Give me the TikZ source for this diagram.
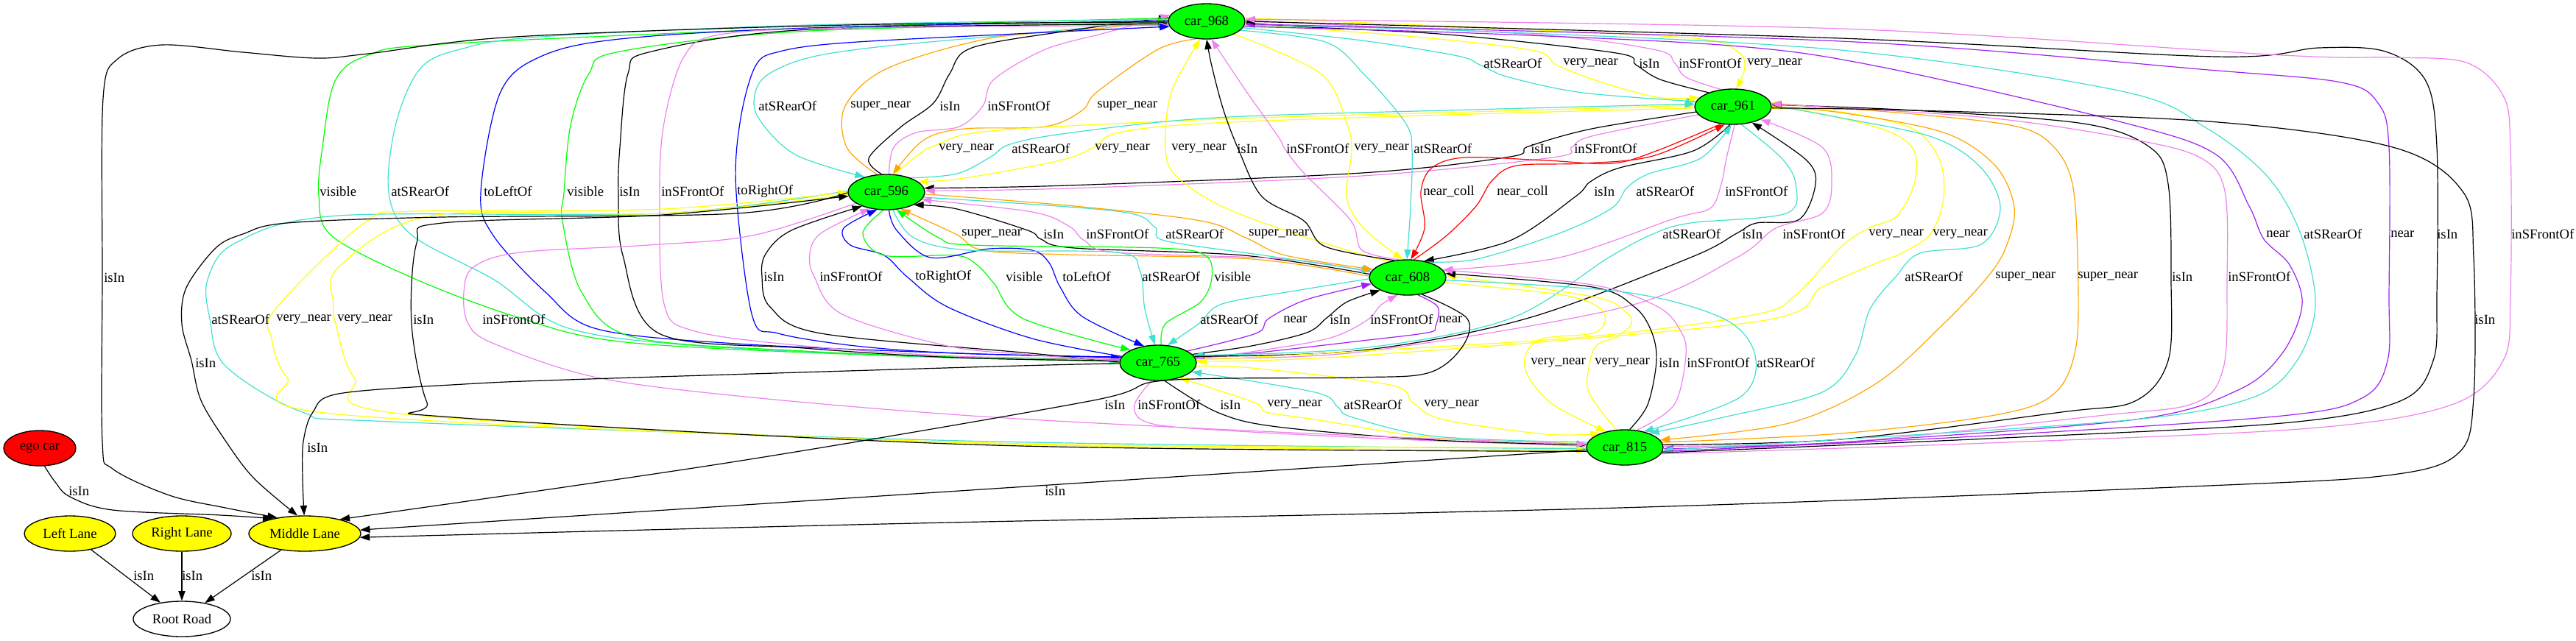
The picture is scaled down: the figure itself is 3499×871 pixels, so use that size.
\documentclass[tikz,border=0pt]{standalone}
\usepackage{fontspec}
\setmainfont{Liberation Serif}
\usetikzlibrary{shapes.geometric,arrows.meta}
\definecolor{gvgreen}{HTML}{00FF00}
\definecolor{gvred}{HTML}{FF0000}
\definecolor{gvyellow}{HTML}{FFFF00}
\definecolor{gvviolet}{HTML}{EE82EE}
\definecolor{gvturq}{HTML}{40E0D0}
\definecolor{gvorange}{HTML}{FFA500}
\definecolor{gvpurple}{HTML}{A020F0}
\definecolor{gvblue}{HTML}{0000FF}
\pgfdeclarelayer{edgelayer}
\pgfsetlayers{edgelayer,main}
\newcommand\edg[2]{\draw[#1] plot[smooth,tension=0.55] coordinates {#2};}
\newcommand\lbl[4]{\node[lab] (#1) at (#2,#3) {#4};}
\begin{document}
\begin{tikzpicture}[x=0.75pt,y=-0.75pt,
  every node/.style={font=\fontsize{14}{16}\selectfont},
  nd/.style={ellipse,draw=black,line width=1pt,minimum height=36pt,inner sep=0pt},
  car/.style={nd,fill=gvgreen,minimum width=78pt},
  lane/.style={nd,fill=gvyellow},
  lab/.style={anchor=west,inner sep=0pt},
  ed/.style={line width=0.9pt,-{Triangle[length=10pt,width=7pt]}},
  rIn/.style={ed,draw=black},
  rFront/.style={ed,draw=gvviolet},
  rRear/.style={ed,draw=gvturq},
  rVery/.style={ed,draw=gvyellow},
  rSuper/.style={ed,draw=gvorange},
  rNear/.style={ed,draw=gvpurple},
  rColl/.style={ed,draw=gvred},
  rVis/.style={ed,draw=gvgreen},
  rSide/.style={ed,draw=gvblue}]
\useasboundingbox (0,0) rectangle (3499,871);
% nodes
\node[car] (c968) at (1639,29) {car\_968};
\node[car] (c961) at (2354,145) {car\_961};
\node[car] (c596) at (1204,261) {car\_596};
\node[car] (c608) at (1912,377) {car\_608};
\node[car] (c765) at (1573,493) {car\_765};
\node[car] (c815) at (2207,608) {car\_815};
\node[nd,fill=gvred,minimum width=73.5pt] (ego) at (54,609) {ego car};
\node[lane,minimum width=93pt] (left) at (95,725) {Left Lane};
\node[lane,minimum width=100.5pt] (right) at (247,725) {Right Lane};
\node[lane,minimum width=114pt] (mid) at (414,725) {Middle Lane};
\node[nd,minimum width=99pt] (root) at (247,841) {Root Road};
\begin{pgfonlayer}{edgelayer}
% 968 - 961
\edg{rRear}{(c968.-10) (1850,55) (1980,76) (2010,88) (2050,105) (2150,126) (c961.172)}
\edg{rVery}{(c968.-5) (1900,48) (2080,68) (2114,88) (2170,110) (2250,132) (c961.165)}
\edg{rIn}{(c961.150) (2255,108) (2222,88) (2195,72) (1967,47) (1760,36) (c968.-2)}
\edg{rFront}{(c961.125) (2290,105) (2275,86) (2250,68) (2100,48) (1800,33) (c968.2)}
\edg{rVery}{(c968.5) (2000,37) (2300,52) (2360,70) (2370,92) (c961.80)}
% 596 - 968
\edg{rRear}{(c968.178) (1400,45) (1200,63) (1100,78) (1045,100) (1026,125) (1030,160) (1080,210) (c596.145)}
\edg{rSuper}{(c596.118) (1150,200) (1148,144) (1205,93) (1345,52) (1500,38) (c968.176)}
\edg{rIn}{(c596.105) (1180,215) (1223,173) (1268,140) (1290,100) (1320,65) (1450,42) (c968.174)}
\edg{rFront}{(c596.82) (1214,200) (1245,180) (1303,172) (1335,144) (1350,108) (1420,67) (1500,45) (c968.170)}
\edg{rSuper}{(c968.-120) (1573,67) (1490,125) (1470,150) (1420,172) (1310,175) (1255,190) (c596.70)}
% 596 - 961
\edg{rVery}{(c596.65) (1245,212) (1272,197) (1346,178) (1650,162) (2000,152) (c961.178)}
\edg{rRear}{(c596.30) (1300,236) (1346,213) (1372,196) (1450,181) (1650,160) (2000,149) (c961.176)}
\edg{rVery}{(c961.182) (2000,155) (1650,167) (1520,180) (1486,200) (1440,218) (1310,242) (c596.18)}
\edg{rIn}{(c961.188) (2162,175) (2076,199) (2051,213) (1850,235) (1450,252) (c596.6)}
\edg{rFront}{(c961.193) (2162,185) (2135,200) (2109,214) (1850,239) (1450,256) (c596.2)}
% 968 - 608
\edg{rVery}{(c608.140) (1830,340) (1708,300) (1640,270) (1590,230) (1583,180) (1593,120) (c968.-110)}
\edg{rIn}{(c608.128) (1800,335) (1771,300) (1714,267) (1683,205) (1662,150) (1646,90) (c968.-90)}
\edg{rFront}{(c608.115) (1850,340) (1835,300) (1771,235) (1745,202) (1737,187) (1690,120) (c968.-75)}
\edg{rVery}{(c968.-25) (1794,100) (1829,167) (1836,205) (1829,267) (1852,310) (c608.105)}
\edg{rRear}{(c968.-15) (1800,57) (1852,100) (1909,167) (1918,205) (1916,280) (c608.92)}
% 961 - 608
\edg{rColl}{(c961.-125) (2250,205) (2190,222) (2100,218) (1990,214) (1945,228) (1930,260) (1935,310) (c608.80)}
\edg{rColl}{(c608.70) (1965,320) (2005,280) (2027,245) (2060,225) (2150,222) (2245,212) (c961.-115)}
\edg{rIn}{(c961.-100) (2300,205) (2200,228) (2160,247) (2140,267) (2051,327) (c608.45)}
\edg{rRear}{(c608.38) (2006,352) (2118,317) (2189,283) (2210,255) (2240,236) (2310,215) (c961.-95)}
\edg{rFront}{(c961.-85) (2345,215) (2338,250) (2323,283) (2274,297) (2118,350) (c608.12)}
% 596 - 608
\edg{rSuper}{(c608.178) (1700,352) (1450,346) (1335,340) (1298,318) (c596.-50)}
\edg{rIn}{(c608.175) (1689,347) (1459,337) (1414,325) (1396,313) (1300,284) (c596.-25)}
\edg{rFront}{(c608.172) (1746,352) (1517,343) (1473,327) (1453,308) (1402,288) (c596.-12)}
\edg{rRear}{(c596.-8) (1517,287) (1568,308) (1582,327) (1717,347) (c608.170)}
\edg{rSuper}{(c596.-3) (1459,280) (1631,300) (1692,323) (1746,347) (c608.167)}
% 968 - 765 (far left)
\edg{rVis}{(c968.175) (1100,38) (600,60) (500,75) (455,110) (438,200) (433,265) (450,320) (559,377) (700,430) (850,465) (1200,483) (c765.178)}
\edg{rRear}{(c968.177) (1100,34) (734,50) (625,67) (571,93) (538,167) (528,262) (560,320) (671,380) (769,445) (950,470) (1300,486) (c765.176)}
\edg{rSide}{(c968.179) (1100,38) (842,53) (734,77) (679,127) (653,262) (670,320) (741,397) (811,447) (1000,467) (1300,480) (c765.172)}
\edg{rVis}{(c765.175) (1300,485) (1092,477) (860,458) (790,397) (764,300) (766,262) (775,170) (800,100) (842,70) (1100,42) (c968.182)}
\edg{rIn}{(c765.177) (1300,486) (1092,473) (895,453) (846,347) (840,262) (842,200) (853,100) (885,70) (1100,40) (c968.184)}
\edg{rFront}{(c765.174) (1300,484) (1092,470) (944,450) (902,413) (896,262) (902,167) (929,77) (978,47) (1150,38) (c968.186)}
\edg{rSide}{(c765.171) (1300,480) (1162,470) (1057,453) (1022,430) (1000,262) (1005,167) (1026,90) (1059,70) (1150,58) (1400,45) (c968.188)}
% 596 - 765
\edg{rIn}{(c765.179) (1400,480) (1115,453) (1046,417) (1035,376) (1040,345) (1075,313) (c596.-150)}
\edg{rFront}{(c765.177) (1400,482) (1287,470) (1144,427) (1106,376) (1100,345) (1115,317) (c596.-135)}
\edg{rSide}{(c765.170) (1402,460) (1287,417) (1232,376) (1201,347) (1155,333) (1146,310) (c596.-118)}
\edg{rVis}{(c596.-100) (1172,317) (1201,347) (1298,347) (1327,360) (1350,385) (1390,433) (c765.155)}
\edg{rSide}{(c596.-82) (1218,313) (1264,350) (1344,338) (1402,340) (1425,357) (1440,390) (1470,430) (c765.130)}
\edg{rRear}{(c596.-70) (1241,323) (1316,340) (1517,343) (1548,367) (1555,420) (c765.100)}
\edg{rVis}{(c765.80) (1583,440) (1631,410) (1646,377) (1637,347) (1574,337) (1321,333) (1275,323) (c596.-60)}
% 608 - 765
\edg{rRear}{(c608.182) (1760,395) (1660,413) (1628,440) (c765.62)}
\edg{rNear}{(c765.22) (1706,453) (1723,433) (1775,407) (c608.190)}
\edg{rIn}{(c765.14) (1700,470) (1775,452) (1802,432) (1830,410) (c608.205)}
\edg{rFront}{(c765.6) (1700,478) (1804,460) (1857,435) (1875,415) (c608.240)}
\edg{rNear}{(c608.-60) (1953,417) (1950,443) (1939,452) (1850,463) (1700,480) (c765.9)}
% 961 - 765
\edg{rRear}{(c961.-65) (2420,215) (2439,250) (2426,290) (2296,303) (2245,318) (2185,350) (2051,433) (1850,473) (c765.12)}
\edg{rIn}{(c765.10) (1850,476) (2073,433) (2296,350) (2359,317) (2386,303) (2444,298) (2466,250) (2453,217) (c961.-40)}
\edg{rFront}{(c765.7) (1850,478) (2207,417) (2359,350) (2412,310) (2475,290) (2488,250) (2475,200) (c961.-25)}
\edg{rVery}{(c765.4) (1850,477) (2163,457) (2386,427) (2440,400) (2500,336) (2538,310) (2576,294) (2600,250) (2600,205) (2564,178) (2480,156) (c961.2)}
\edg{rVery}{(c961.-3) (2500,152) (2596,174) (2634,216) (2640,269) (2622,318) (2583,344) (2550,357) (2475,390) (2386,437) (1850,483) (c765.2)}
% 608 - 815
\edg{rVery}{(c608.-8) (2118,400) (2171,417) (2180,437) (2163,453) (2096,460) (2073,480) (2075,510) (2110,550) (c815.140)}
\edg{rVery}{(c815.115) (2158,533) (2160,490) (2170,468) (2195,458) (2216,440) (2207,423) (2163,403) (c608.3)}
\edg{rIn}{(c815.75) (2238,550) (2250,490) (2243,450) (2220,417) (2163,390) (c608.6)}
\edg{rFront}{(c815.55) (2274,550) (2290,483) (2283,450) (2252,417) (2163,387) (c608.12)}
\edg{rRear}{(c608.-4) (2207,397) (2341,433) (2384,483) (2363,540) (c815.40)}
% 765 - 815
\edg{rFront}{(c765.-110) (1541,550) (1556,573) (1633,583) (1900,597) (c815.178)}
\edg{rIn}{(c765.-70) (1653,560) (1735,580) (1950,598) (c815.176)}
\edg{rVery}{(c815.174) (1950,595) (1786,570) (1720,560) (1704,547) (c765.-35)}
\edg{rRear}{(c815.172) (1950,593) (1837,567) (1817,553) (1786,533) (c765.-15)}
\edg{rVery}{(c765.-5) (1700,500) (1888,523) (1919,547) (1960,570) (2100,590) (c815.150)}
% 961 - 815
\edg{rRear}{(c961.2) (2500,160) (2627,187) (2691,228) (2717,282) (2691,332) (2608,344) (2575,376) (2540,420) (2520,483) (2475,533) (2341,567) (c815.30)}
\edg{rSuper}{(c961.0) (2500,153) (2640,180) (2710,225) (2736,282) (2725,335) (2700,376) (2640,440) (2550,520) (2430,575) (c815.12)}
\edg{rSuper}{(c815.8) (2500,589) (2710,564) (2790,535) (2820,470) (2822,350) (2815,250) (2790,200) (2740,172) (2600,155) (c961.5)}
\edg{rIn}{(c815.4) (2500,597) (2800,560) (2900,545) (2945,490) (2949,380) (2945,250) (2920,200) (2830,168) (2600,150) (c961.3)}
\edg{rFront}{(c815.2) (2500,601) (2850,565) (2980,548) (3020,500) (3025,380) (3022,260) (2990,215) (2900,190) (2700,160) (c961.4)}
% 968 - 815
\edg{rNear}{(c968.-8) (2000,45) (2350,62) (2550,90) (2882,166) (3010,210) (3055,280) (3075,325) (3110,360) (3127,414) (3100,480) (3040,530) (2900,570) (2500,601) (c815.-2)}
\edg{rRear}{(c968.-6) (2000,42) (2500,68) (2882,124) (2997,174) (3080,240) (3125,318) (3145,414) (3120,490) (3060,540) (2900,570) (2500,597) (c815.-4)}
\edg{rNear}{(c815.-6) (2700,592) (3100,565) (3210,540) (3243,490) (3245,400) (3245,200) (3230,140) (3180,112) (3000,95) (2500,56) (c968.-4)}
\edg{rIn}{(c815.-8) (2700,596) (3100,575) (3260,545) (3305,490) (3310,400) (3310,200) (3295,110) (3240,70) (3150,65) (3010,77) (2500,52) (c968.0)}
\edg{rFront}{(c815.-10) (2700,602) (3137,582) (3330,550) (3400,490) (3410,400) (3410,200) (3400,130) (3350,85) (3250,78) (3100,75) (2500,39) (c968.3)}
% 596 - 815
\edg{rRear}{(c596.178) (900,290) (460,293) (320,330) (282,380) (285,433) (306,497) (411,560) (531,573) (1350,600) (c815.182)}
\edg{rVery}{(c815.180) (1350,602) (460,563) (390,513) (369,460) (374,420) (495,303) (566,287) (900,284) (c596.180)}
\edg{rVery}{(c596.184) (900,290) (587,293) (460,363) (453,413) (456,440) (481,513) (552,563) (1350,603) (c815.184)}
\edg{rIn}{(c815.186) (1350,605) (615,567) (580,547) (559,440) (566,330) (601,303) (900,292) (c596.186)}
\edg{rFront}{(c596.-160) (1022,320) (881,333) (706,343) (643,363) (630,397) (636,440) (671,467) (811,513) (1022,540) (1350,567) (1800,590) (c815.175)}
% lanes
\edg{rIn}{(c968.181) (1150,34) (700,50) (500,73) (430,79) (330,71) (220,61) (160,80) (140,134) (139,377) (139,600) (153,637) (230,673) (306,690) (mid.150)}
\edg{rIn}{(c596.181) (1000,290) (600,295) (390,303) (330,318) (293,337) (253,391) (247,440) (260,490) (273,544) (307,600) (345,650) (mid.112)}
\edg{rIn}{(c765.181) (1350,498) (800,515) (630,522) (460,535) (425,560) (412,600) (411,650) (mid.92)}
\edg{rIn}{(c608.-50) (1993,433) (1985,473) (1939,507) (1837,513) (1582,517) (1480,545) (1000,627) (mid.22)}
\draw[rIn] (c815) -- (mid);
\edg{rIn}{(c961.-2) (2600,150) (3000,165) (3250,200) (3345,260) (3360,350) (3360,540) (3340,615) (3250,645) (3000,660) (2200,690) (1200,712) (mid.-4)}
\edg{rIn}{(ego.-75) (75,655) (95,675) (153,693) (300,700) (mid.155)}
\draw[rIn] (left) -- (root);
\draw[rIn] (right) -- (root);
\draw[rIn] (mid) -- (root);
\end{pgfonlayer}
% labels
\lbl{a1}{2015}{86}{atSRearOf}
\lbl{a2}{2123}{86}{very\_near}
\lbl{a3}{2226}{86}{isIn}
\lbl{a4}{2280}{86}{inSFrontOf}
\lbl{a5}{2373}{86}{very\_near}
\lbl{b1}{1030}{144}{atSRearOf}
\lbl{b2}{1155}{144}{super\_near}
\lbl{b3}{1276}{144}{isIn}
\lbl{b4}{1341}{144}{inSFrontOf}
\lbl{b5}{1490}{144}{super\_near}
\lbl{c1}{1275}{202}{very\_near}
\lbl{c2}{1374}{202}{atSRearOf}
\lbl{c3}{1487}{202}{very\_near}
\lbl{c4}{1591}{202}{very\_near}
\lbl{c5}{1680}{202}{isIn}
\lbl{c6}{1747}{202}{inSFrontOf}
\lbl{c7}{1839}{202}{very\_near}
\lbl{c8}{1920}{202}{atSRearOf}
\lbl{c9}{2079}{202}{isIn}
\lbl{c10}{2138}{202}{inSFrontOf}
\lbl{d1}{434}{260}{visible}
\lbl{d2}{531}{260}{atSRearOf}
\lbl{d3}{657}{260}{toLeftOf}
\lbl{d4}{770}{260}{visible}
\lbl{d5}{841}{260}{isIn}
\lbl{d6}{898}{260}{inSFrontOf}
\lbl{d7}{1001}{260}{toRightOf}
\lbl{d8}{1933}{260}{near\_coll}
\lbl{d9}{2033}{260}{near\_coll}
\lbl{d10}{2165}{260}{isIn}
\lbl{d11}{2222}{260}{atSRearOf}
\lbl{d12}{2343}{260}{inSFrontOf}
\lbl{e1}{1306}{318}{super\_near}
\lbl{e2}{1417}{318}{isIn}
\lbl{e3}{1475}{318}{inSFrontOf}
\lbl{e4}{1583}{318}{atSRearOf}
\lbl{e5}{1696}{318}{super\_near}
\lbl{e6}{2258}{318}{atSRearOf}
\lbl{e7}{2366}{318}{isIn}
\lbl{e8}{2421}{318}{inSFrontOf}
\lbl{e9}{2538}{318}{very\_near}
\lbl{e10}{2625}{318}{very\_near}
\lbl{e11}{3078}{318}{near}
\lbl{e12}{3129}{318}{atSRearOf}
\lbl{e13}{3247}{318}{near}
\lbl{e14}{3310}{318}{isIn}
\lbl{e15}{3411}{318}{inSFrontOf}
\lbl{f1}{141}{377}{isIn}
\lbl{f2}{1037}{376}{isIn}
\lbl{f3}{1113}{376}{inSFrontOf}
\lbl{f4}{1243}{376}{toRightOf}
\lbl{f5}{1366}{376}{visible}
\lbl{f6}{1443}{376}{toLeftOf}
\lbl{f7}{1551}{376}{atSRearOf}
\lbl{f8}{1649}{376}{visible}
\lbl{f9}{2587}{376}{atSRearOf}
\lbl{f10}{2710}{376}{super\_near}
\lbl{f11}{2822}{376}{super\_near}
\lbl{f12}{2950}{376}{isIn}
\lbl{f13}{3026}{376}{inSFrontOf}
\lbl{g1}{287}{434}{atSRearOf}
\lbl{g2}{375}{434}{very\_near}
\lbl{g3}{458}{434}{very\_near}
\lbl{g4}{561}{434}{isIn}
\lbl{g5}{655}{434}{inSFrontOf}
\lbl{g6}{1630}{434}{atSRearOf}
\lbl{g7}{1743}{434}{near}
\lbl{g8}{1806}{434}{isIn}
\lbl{g9}{1861}{434}{inSFrontOf}
\lbl{g10}{1954}{434}{near}
\lbl{g11}{3361}{434}{isIn}
\lbl{h1}{265}{493}{isIn}
\lbl{h2}{2079}{493}{very\_near}
\lbl{h3}{2166}{493}{very\_near}
\lbl{h4}{2253}{493}{isIn}
\lbl{h5}{2291}{493}{inSFrontOf}
\lbl{h6}{2386}{493}{atSRearOf}
\lbl{i1}{1500}{550}{isIn}
\lbl{i2}{1545}{550}{inSFrontOf}
\lbl{i3}{1657}{550}{isIn}
\lbl{i4}{1721}{550}{very\_near}
\lbl{i5}{1825}{550}{atSRearOf}
\lbl{i6}{1934}{550}{very\_near}
\lbl{j1}{417}{608}{isIn}
\lbl{k1}{93}{667}{isIn}
\lbl{k2}{1419}{667}{isIn}
\lbl{m1}{181}{782}{isIn}
\lbl{m2}{247}{782}{isIn}
\lbl{m3}{341}{782}{isIn}
\end{tikzpicture}
\end{document}
